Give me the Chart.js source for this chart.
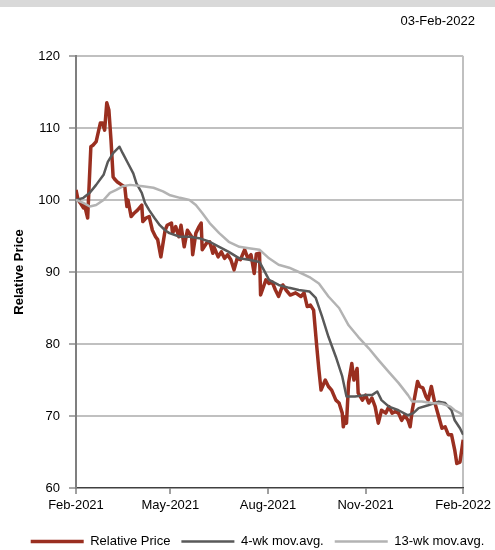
<!DOCTYPE html>
<html>
<head>
<meta charset="utf-8">
<script src="https://cdn.jsdelivr.net/npm/chart.js@4.4.1/dist/chart.umd.min.js"></script>
<style>
  html, body { margin: 0; padding: 0; background: #ffffff; }
  #wrap { position: relative; width: 495px; height: 550px; }
</style>
</head>
<body>
<div id="wrap"><canvas id="c" width="495" height="550"></canvas></div>
<script>
// ---- Data (days since 03-Feb-2021) ----
const reportDate = "03-Feb-2022";
const seriesNames = ["Relative Price", "4-wk mov.avg.", "13-wk mov.avg."];
const tickDays = [0, 89, 181, 273, 365];
const tickLabels = ["Feb-2021", "May-2021", "Aug-2021", "Nov-2021", "Feb-2022"];

const priceDays = [0,2,4,7,8,11,14,16,19,23,25,27,29,31,33,35,37,39,43,46,48,49,52,55,58,62,63,66,69,72,75,77,80,84,86,90,91,94,97,99,102,105,109,110,113,116,118,119,123,126,129,130,134,137,140,143,146,149,152,155,159,162,165,168,170,173,174,179,182,185,188,191,195,198,202,207,212,215,218,221,224,227,229,231,235,238,241,245,248,251,252,254,255,257,260,262,265,266,270,273,276,279,282,285,288,292,295,298,301,304,307,310,313,315,317,320,322,324,327,330,332,335,337,338,342,345,348,351,354,357,359,362,365];
const priceValues = [101.4,100.0,99.6,98.9,99.3,97.5,107.4,107.6,108.1,110.7,110.7,109.7,113.5,112.5,108.3,103.2,102.8,102.5,102.1,101.8,99.1,100.0,97.7,98.2,98.6,99.3,97.0,97.5,97.7,95.8,94.9,94.5,92.1,95.8,96.5,96.8,95.4,96.3,94.9,96.5,93.5,95.8,94.9,92.4,95.4,96.3,96.8,93.1,94.0,94.2,92.6,93.5,92.1,92.8,91.9,92.4,91.7,90.3,91.9,91.7,93.1,91.9,92.4,89.8,92.5,92.6,86.8,88.9,88.4,88.6,87.5,86.6,88.2,87.5,86.8,87.1,86.6,87.1,85.2,85.4,84.7,79.6,76.4,73.6,75.0,74.1,73.6,72.2,71.8,70.4,68.5,69.9,69.0,74.6,77.3,75.0,76.6,73.2,72.2,72.9,71.8,72.5,71.3,69.0,70.8,70.4,71.3,70.4,70.6,70.4,69.4,70.1,69.4,68.5,70.8,73.2,74.8,74.1,73.9,72.7,72.2,74.1,72.7,72.0,69.9,68.3,68.5,67.4,67.4,65.3,63.4,63.6,66.7];

const ma4Days = [0,7,13,19,26,30,35,41,44,49,54,57,62,65,69,74,79,84,88,98,107,116,126,135,144,154,163,173,182,191,201,210,220,226,232,238,245,251,255,263,273,279,284,288,295,304,313,318,323,332,342,348,354,357,362,365];
const ma4Values = [100.0,100.3,101.0,102.1,103.5,105.3,106.5,107.4,106.5,105.1,103.7,102.3,101.0,99.6,98.6,97.5,96.5,95.8,95.4,94.9,94.9,94.7,94.2,93.5,92.8,91.9,91.7,91.4,88.9,88.2,87.8,87.5,87.3,86.4,83.8,81.0,78.2,75.5,72.7,72.7,72.9,72.9,73.4,72.2,71.3,70.8,70.1,70.4,71.1,71.5,72.0,71.8,70.8,69.4,68.3,67.4];

const ma13Days = [0,7,13,19,26,32,38,44,51,63,73,82,88,98,107,113,119,126,135,144,154,163,173,182,191,201,210,220,229,238,248,257,266,276,285,295,304,313,317,326,335,345,353,357,362,365];
const ma13Values = [100.0,99.6,99.1,99.3,100.0,101.0,101.4,101.9,102.1,101.9,101.7,101.2,100.7,100.3,100.0,99.3,98.2,96.8,95.4,94.2,93.5,93.3,93.1,91.9,91.0,90.6,90.0,89.3,88.4,86.6,85.0,82.6,81.0,79.4,77.8,76.1,74.6,72.9,72.0,72.0,71.8,71.7,71.3,70.8,70.4,70.1];

const yMin = 60, yMax = 120, yStep = 10;
const colors = ["#9a2f20", "#595959", "#b3b3b3"];

// ---- build points ----
const toPts = (d, v) => d.map((x, i) => ({ x: x, y: v[i] }));

Chart.defaults.font.family = "'Liberation Sans', Arial, Helvetica, sans-serif";
Chart.defaults.font.size = 13;
Chart.defaults.color = "#000000";

const decor = {
  id: "decor",
  beforeDraw(chart) {
    const ctx = chart.ctx;
    ctx.save();
    ctx.fillStyle = "#d9d9d9";
    ctx.fillRect(0, 0, chart.width, 7);
    ctx.restore();
  },
  afterDraw(chart) {
    const ctx = chart.ctx;
    ctx.save();
    ctx.fillStyle = "#000000";
    ctx.font = "13px 'Liberation Sans', Arial, sans-serif";
    ctx.textAlign = "right";
    ctx.textBaseline = "middle";
    ctx.fillText(reportDate, 475, 21);
    ctx.restore();
  }
};

new Chart(document.getElementById("c"), {
  type: "line",
  data: {
    datasets: [
      { label: seriesNames[0], data: toPts(priceDays, priceValues), borderColor: colors[0], backgroundColor: colors[0], borderWidth: 3.5, order: 3 },
      { label: seriesNames[1], data: toPts(ma4Days, ma4Values), borderColor: colors[1], backgroundColor: colors[1], borderWidth: 2.5, order: 2 },
      { label: seriesNames[2], data: toPts(ma13Days, ma13Values), borderColor: colors[2], backgroundColor: colors[2], borderWidth: 2.5, order: 1 }
    ]
  },
  options: {
    responsive: false,
    animation: false,
    devicePixelRatio: 1,
    layout: { padding: { top: 56, left: 10, right: -10, bottom: -8 } },
    elements: {
      point: { radius: 0, hoverRadius: 0 },
      line: { tension: 0, fill: false, borderJoinStyle: "round", borderCapStyle: "butt" }
    },
    plugins: {
      tooltip: { enabled: false },
      title: { display: false },
      legend: {
        position: "bottom",
        labels: {
          usePointStyle: true,
          pointStyle: "line",
          pointStyleWidth: 53,
          padding: 11,
          color: "#000000",
          font: { size: 13 },
          sort: (a, b) => a.datasetIndex - b.datasetIndex
        }
      }
    },
    scales: {
      x: {
        type: "linear",
        min: tickDays[0],
        max: tickDays[tickDays.length - 1],
        afterBuildTicks: (s) => { s.ticks = tickDays.map(v => ({ value: v })); },
        afterFit: (s) => { s.height = 36; },
        ticks: {
          autoSkip: false,
          maxRotation: 0,
          padding: 4,
          color: "#000000",
          callback: (v, i) => tickLabels[i]
        },
        grid: {
          drawOnChartArea: true,
          color: (c) => (c.tick && c.tick.value === tickDays[tickDays.length - 1]) ? "#c0c0c0" : "rgba(0,0,0,0)",
          lineWidth: 2,
          tickColor: "#404040",
          tickLength: 6,
          tickWidth: 1
        },
        border: { display: true, color: "#404040", width: 1.5 }
      },
      y: {
        min: yMin,
        max: yMax,
        afterFit: (s) => { s.width = 66; },
        ticks: { stepSize: yStep, padding: 9, color: "#000000" },
        grid: {
          color: (c) => (c.tick && c.tick.value === yMin) ? "rgba(0,0,0,0)" : "#c0c0c0",
          lineWidth: 2,
          tickColor: "#8c8c8c",
          tickLength: 7,
          tickWidth: 1.5
        },
        border: { display: true, color: "#7f7f7f", width: 2 },
        title: {
          display: true,
          text: "Relative Price",
          font: { size: 13, weight: "bold" },
          color: "#000000",
          padding: { top: 1.2, bottom: 0 }
        }
      }
    }
  },
  plugins: [decor]
});
</script>
</body>
</html>
